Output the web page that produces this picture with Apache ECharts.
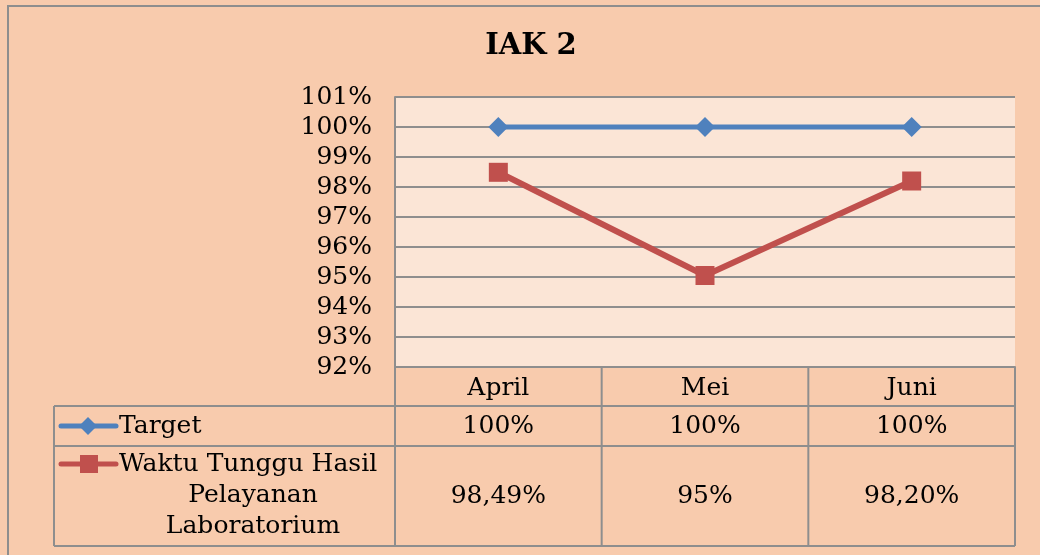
<!DOCTYPE html>
<html>
<head>
<meta charset="utf-8">
<script src="https://cdn.jsdelivr.net/npm/echarts@6/dist/echarts.min.js"></script>
<style>
  html, body { margin: 0; padding: 0; background: #F8CBAD; }
  #main { width: 1040px; height: 555px; }
</style>
</head>
<body>
<div id="main"></div>
<script>
// data
var categories = ['April', 'Mei', 'Juni'];
var targetName = 'Target';
var targetData = [100, 100, 100];
var waktuName = 'Waktu Tunggu Hasil Pelayanan Laboratorium';
var waktuData = [98.49, 95.05, 98.2];
var targetLabels = ['100%', '100%', '100%'];
var waktuLabels = ['98,49%', '95%', '98,20%'];

var FONT = 'DejaVu Serif';
var FS = 25;
var GRID_COLOR = '#8E8E8E';
var BLUE = '#4F81BD';
var RED = '#C0504D';

var myChart = echarts.init(document.getElementById('main'));

myChart.setOption({
  backgroundColor: '#F8CBAD',
  animation: false,
  title: {
    text: 'IAK 2',
    left: 526,
    textAlign: 'center',
    top: 27,
    textStyle: { fontFamily: FONT, fontWeight: 'bold', fontSize: 29, color: '#000' }
  },
  grid: {
    left: 395,
    right: 25,
    top: 97,
    bottom: 188,
    show: true,
    backgroundColor: '#FBE5D6',
    borderWidth: 0
  },
  xAxis: {
    type: 'category',
    data: categories,
    boundaryGap: true,
    axisLine: { show: true, lineStyle: { color: GRID_COLOR, width: 2 } },
    axisTick: { show: false },
    axisLabel: { margin: 9, fontFamily: FONT, fontSize: FS, color: '#000' }
  },
  yAxis: {
    type: 'value',
    min: 92,
    max: 101,
    interval: 1,
    axisLine: { show: true, lineStyle: { color: GRID_COLOR, width: 2 } },
    axisTick: { show: false },
    splitLine: { show: true, lineStyle: { color: GRID_COLOR, width: 2 } },
    axisLabel: {
      margin: 23,
      fontFamily: FONT,
      fontSize: FS,
      color: '#000',
      formatter: '{value}%'
    }
  },
  series: [
    {
      name: targetName,
      type: 'line',
      data: targetData,
      symbol: 'diamond',
      symbolSize: 20,
      lineStyle: { color: BLUE, width: 5 },
      itemStyle: { color: BLUE }
    },
    {
      name: waktuName,
      type: 'line',
      data: waktuData,
      symbol: 'rect',
      symbolSize: 19,
      lineStyle: { color: RED, width: 6 },
      itemStyle: { color: RED }
    }
  ]
});

// data table under the plot, positioned from the axes
function drawTable() {
  var x0 = myChart.convertToPixel({ xAxisIndex: 0 }, 0);
  var x1 = myChart.convertToPixel({ xAxisIndex: 0 }, 1);
  var colW = x1 - x0;
  var plotLeft = x0 - colW / 2;
  var plotRight = plotLeft + colW * categories.length;
  var yBottom = myChart.convertToPixel({ yAxisIndex: 0 }, 92);
  var rowHead = yBottom + 39;
  var rowTarget = rowHead + 40;
  var tableBottom = rowTarget + 100;
  var tableLeft = 54;
  var lineStyle = { stroke: GRID_COLOR, lineWidth: 2 };
  var els = [];

  function hline(xa, xb, y) {
    els.push({ type: 'line', shape: { x1: xa, y1: y, x2: xb, y2: y }, style: lineStyle, silent: true });
  }
  function vline(x, ya, yb) {
    els.push({ type: 'line', shape: { x1: x, y1: ya, x2: x, y2: yb }, style: lineStyle, silent: true });
  }
  function text(str, x, y, align) {
    els.push({
      type: 'text', x: x, y: y, silent: true,
      style: { text: str, fill: '#000', font: FS + 'px "' + FONT + '"', align: align || 'center', verticalAlign: 'middle' }
    });
  }

  hline(tableLeft, plotRight, rowHead);
  hline(tableLeft, plotRight, rowTarget);
  hline(tableLeft, plotRight, tableBottom);
  vline(tableLeft, rowHead, tableBottom);
  for (var i = 0; i <= categories.length; i++) {
    vline(plotLeft + colW * i, yBottom, tableBottom);
  }

  for (var j = 0; j < categories.length; j++) {
    var cx = myChart.convertToPixel({ xAxisIndex: 0 }, j);
    text(targetLabels[j], cx, (rowHead + rowTarget) / 2);
    text(waktuLabels[j], cx, (rowTarget + tableBottom) / 2);
  }

  // legend keys
  var ty = (rowHead + rowTarget) / 2;
  els.push({ type: 'line', shape: { x1: 61, y1: ty, x2: 116, y2: ty }, style: { stroke: BLUE, lineWidth: 5, lineCap: 'round' }, silent: true });
  els.push({ type: 'polygon', shape: { points: [[88, ty - 9], [97, ty], [88, ty + 9], [79, ty]] }, style: { fill: BLUE }, silent: true });
  text(targetName, 119, ty, 'left');

  var wy = rowTarget + 18;
  els.push({ type: 'line', shape: { x1: 61, y1: wy, x2: 116, y2: wy }, style: { stroke: RED, lineWidth: 5, lineCap: 'round' }, silent: true });
  els.push({ type: 'rect', shape: { x: 80, y: wy - 9, width: 18, height: 18 }, style: { fill: RED }, silent: true });
  text('Waktu Tunggu Hasil', 119, wy, 'left');
  text('Pelayanan', 253, wy + 31);
  text('Laboratorium', 253, wy + 62);

  // outer chart border
  els.push({ type: 'rect', shape: { x: 8, y: 6, width: 1040, height: 560 }, style: { fill: null, stroke: GRID_COLOR, lineWidth: 2 }, silent: true });

  myChart.setOption({ graphic: els });
}
drawTable();
</script>
</body>
</html>
